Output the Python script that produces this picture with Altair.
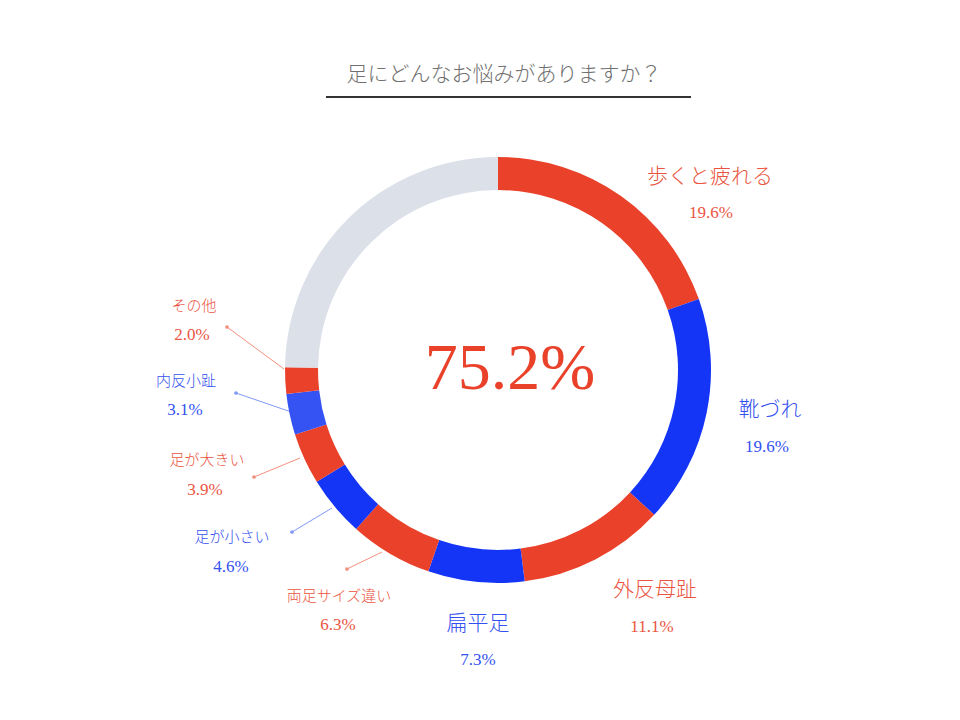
import altair as alt
import pandas as pd

# ---- data ----
categories = ["歩くと疲れる", "靴づれ", "外反母趾", "扁平足", "両足サイズ違い",
              "足が小さい", "足が大きい", "内反小趾", "その他", "残り"]
arc_values = [19.6, 17.3, 11.1, 7.3, 6.3, 4.6, 3.9, 3.1, 2.0, 24.8]
pct_labels = ["19.6%", "19.6%", "11.1%", "7.3%", "6.3%", "4.6%", "3.9%", "3.1%", "2.0%"]
total_label = "75.2%"
title_text = "足にどんなお悩みがありますか？"

RED = "#E9412A"
BLUE = "#1434F6"
BLUE_L = "#3553F2"
GREY = "#DCE0E8"
seg_colors = [RED, BLUE, RED, BLUE, RED, BLUE, RED, BLUE_L, RED, GREY]
TXT_RED = "#EA5441"
TXT_BLUE = "#3451F0"
txt_colors = [TXT_RED, TXT_BLUE, TXT_RED, TXT_BLUE, TXT_RED, TXT_BLUE, TXT_RED, TXT_BLUE, TXT_RED]

FONT = "Liberation Serif, Noto Sans CJK JP"
OFF = 8  # page margin
CX, CY = 498 - OFF, 370 - OFF

# ---- layout (page coordinates) ----
name_pos = [(710, 177), (770, 410), (655, 590), (478, 624), (339, 596),
            (232, 537), (207, 460), (186, 381), (194, 306)]
pct_pos = [(711, 213), (767, 447), (652, 627), (478, 660), (338, 625),
           (231, 567), (205, 490), (185, 410), (192, 335)]
big = [True, True, True, True, False, False, False, False, False]
leaders = [  # (idx, x1, y1, x2, y2)
    (4, 347, 569, 382, 552),
    (5, 292, 532, 332, 508),
    (6, 254, 477, 300, 458),
    (7, 236, 393, 300, 415),
    (8, 227, 327, 284, 369),
]
line_colors = {4: "#F2907F", 5: "#8298F6", 6: "#F2907F", 7: "#8298F6", 8: "#F2907F"}

arc_df = pd.DataFrame({
    "cat": categories,
    "value": arc_values,
    "idx": list(range(len(categories))),
    "color": seg_colors,
})

lab_rows = []
for i in range(len(pct_labels)):
    lab_rows.append({"text": categories[i], "x": name_pos[i][0] - OFF, "y": name_pos[i][1] - OFF,
                     "c": txt_colors[i], "kind": "bigname" if big[i] else "smallname"})
    lab_rows.append({"text": pct_labels[i], "x": pct_pos[i][0] - OFF, "y": pct_pos[i][1] - OFF,
                     "c": txt_colors[i], "kind": "pct"})
lab_df = pd.DataFrame(lab_rows)

lead_df = pd.DataFrame([{"x1": a - OFF, "y1": b - OFF, "x2": c - OFF, "y2": d - OFF,
                         "c": line_colors[i]} for i, a, b, c, d in leaders])

arcs = alt.Chart(arc_df).mark_arc(innerRadius=180, outerRadius=213, x=CX, y=CY,
                                  strokeWidth=0).encode(
    theta=alt.Theta("value:Q", stack=True),
    order=alt.Order("idx:Q", sort="ascending"),
    color=alt.Color("color:N", scale=None),
)

rules = alt.Chart(lead_df).mark_rule(strokeWidth=1).encode(
    x=alt.X("x1:Q", scale=None), y=alt.Y("y1:Q", scale=None),
    x2="x2:Q", y2="y2:Q", color=alt.Color("c:N", scale=None),
)
dots = alt.Chart(lead_df).mark_circle(size=14, opacity=1).encode(
    x=alt.X("x1:Q", scale=None), y=alt.Y("y1:Q", scale=None),
    color=alt.Color("c:N", scale=None),
)


def text_layer(kind, size, weight="normal"):
    return alt.Chart(lab_df).transform_filter(alt.datum.kind == kind).mark_text(
        font=FONT, fontSize=size, fontWeight=weight, align="center", baseline="middle").encode(
        x=alt.X("x:Q", scale=None), y=alt.Y("y:Q", scale=None),
        text="text:N", color=alt.Color("c:N", scale=None),
    )


center = alt.Chart(pd.DataFrame({"t": [total_label]})).mark_text(
    font=FONT, fontSize=66, color=RED, align="center", baseline="middle").encode(
    x=alt.value(510 - OFF), y=alt.value(369 - OFF), text="t:N")

title = alt.Chart(pd.DataFrame({"t": [title_text]})).mark_text(
    font=FONT, fontSize=21, fontWeight=300, color="#707070", align="center", baseline="middle").encode(
    x=alt.value(504 - OFF), y=alt.value(75 - OFF), text="t:N")

underline = alt.Chart(pd.DataFrame({"a": [0]})).mark_rule(color="#333333", strokeWidth=2).encode(
    x=alt.value(326 - OFF), x2=alt.value(691 - OFF), y=alt.value(97 - OFF))

chart = alt.layer(
    rules, dots, arcs,
    text_layer("bigname", 21, 300), text_layer("smallname", 15, 300), text_layer("pct", 17),
    center, title, underline,
).properties(
    width=944, height=704, padding=0, autosize=alt.AutoSizeParams(type="none"),
    background="white",
).configure_view(stroke=None)

chart.save("out.html", embed_options={"renderer": "svg", "actions": False})
